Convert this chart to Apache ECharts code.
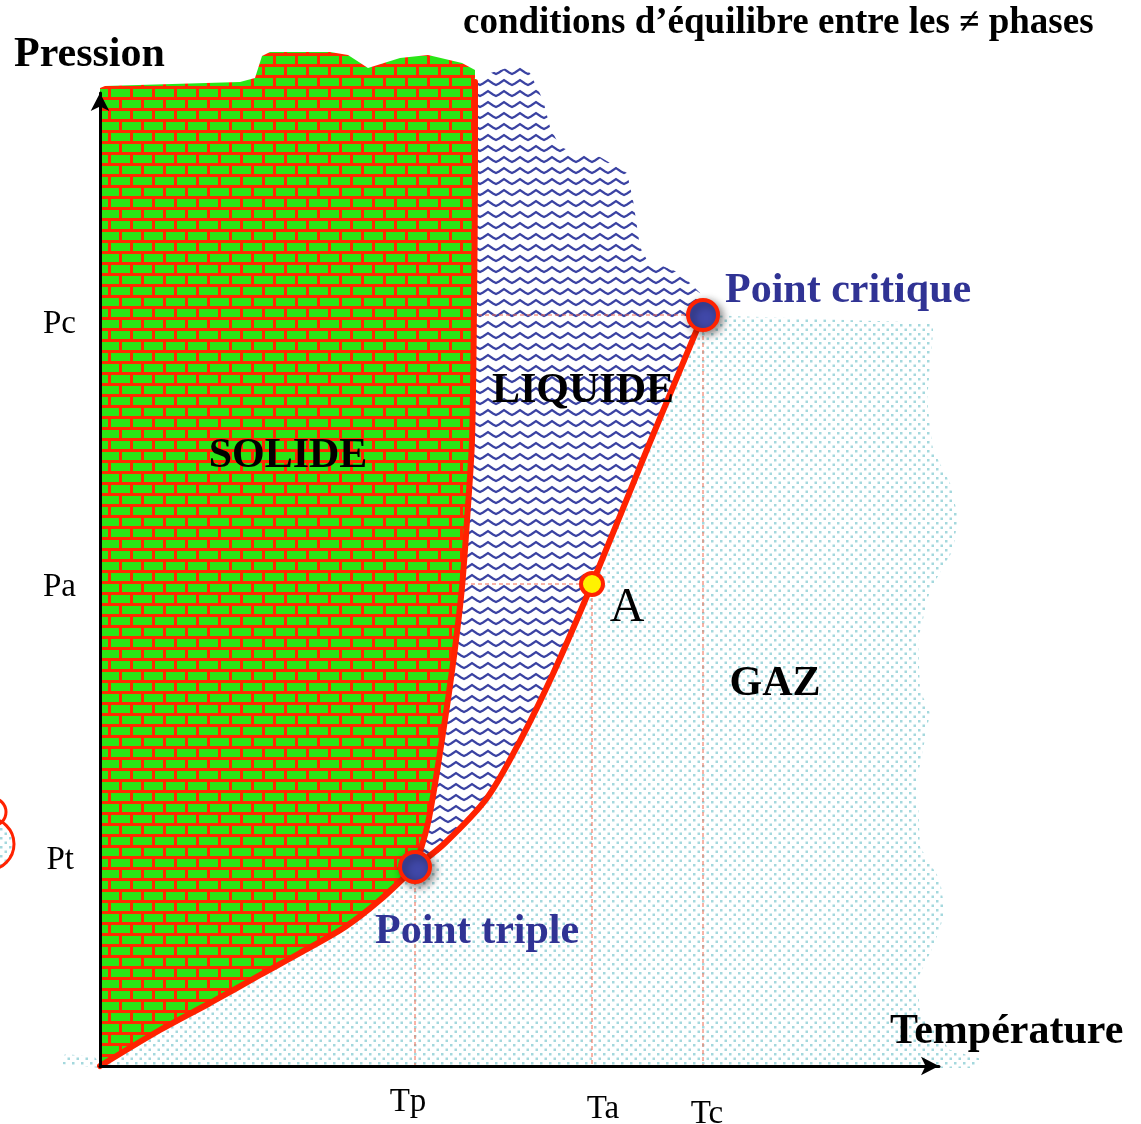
<!DOCTYPE html>
<html>
<head>
<meta charset="utf-8">
<script src="https://cdn.jsdelivr.net/npm/echarts@6/dist/echarts.min.js"></script>
<style>
  html, body { margin: 0; background: #fff; }
  #chart { width: 1141px; height: 1124px; }
</style>
</head>
<body>
<div id="chart"></div>
<script>
// ticks (température / pression, unités arbitraires)
const tempTicks = [315, 492, 603];
const tempNames = ['Tp', 'Ta', 'Tc'];
const presTicks = [199, 482, 751];
const presNames = ['Pt', 'Pa', 'Pc'];

// courbes d'équilibre
const sublimation = [[0, 0], [60, 36], [110, 63], [160, 91], [200, 113], [245, 139], [280, 166], [315, 199]];
const fusion = [[315, 199], [328, 243], [343, 333], [354, 410], [362, 479], [368, 560], [372, 626], [374, 760], [375, 900], [375, 984]];
const vaporisation = [[315, 199], [345, 223], [387, 268], [420, 325], [452, 390], [492, 482], [548, 619], [603, 751]];

// bords "libres" des zones
const solidTop = [[375, 996], [362, 1003], [328, 1011], [300, 1008], [268, 998], [248, 1011], [230, 1014], [170, 1014], [162, 1010], [155, 988], [140, 984], [5, 980], [0, 978]];
const liquidTop = [[377, 989], [417, 1001], [430, 993], [443, 966], [450, 939], [460, 919], [477, 913], [500, 909], [527, 893], [533, 866], [540, 819], [547, 806], [580, 793], [600, 773]];
const gasEdge = [[833, 743], [833, 733], [830, 699], [827, 666], [833, 616], [850, 583], [858, 549], [853, 516], [830, 476], [818, 426], [820, 376], [830, 353], [817, 286], [820, 219], [840, 186], [845, 153], [833, 119], [817, 86], [820, 53], [850, 16], [885, 6], [870, -2]];
const gasBottom = [[0, -2], [-40, 2], [-35, 12], [-5, 9]];

// points remarquables
const triple = [315, 199];
const pointA = [492, 482];
const critique = [603, 751];

// --- textures ---
function brickTile() {
  const c = document.createElement('canvas');
  c.width = 44; c.height = 22;
  const g = c.getContext('2d');
  g.fillStyle = '#ff2a00'; g.fillRect(0, 0, 44, 22);
  g.fillStyle = '#2ae516';
  g.fillRect(1, 1, 19, 8); g.fillRect(23, 1, 19, 8);
  g.fillRect(12, 12, 19, 8); g.fillRect(34, 12, 10, 8); g.fillRect(0, 12, 9, 8);
  return c;
}
function waveTile() {
  const c = document.createElement('canvas');
  c.width = 16; c.height = 11;
  const g = c.getContext('2d');
  g.strokeStyle = '#3a42a2'; g.lineWidth = 2.2;
  g.beginPath();
  g.moveTo(-1, 8.5); g.lineTo(3, 6.5); g.lineTo(8, 3); g.lineTo(13, 6.5); g.lineTo(17, 8.5);
  g.stroke();
  return c;
}
function dotTile() {
  const c = document.createElement('canvas');
  c.width = 9; c.height = 9;
  const g = c.getContext('2d');
  g.fillStyle = '#a4d8dd';
  g.fillRect(0, 0, 2.5, 2.5); g.fillRect(4.5, 4.5, 2.5, 2.5);
  return c;
}
const bricks = { image: brickTile(), repeat: 'repeat' };
const waves = { image: waveTile(), repeat: 'repeat' };
const dots = { image: dotTile(), repeat: 'repeat' };

function region(pts, fill, z) {
  return {
    type: 'custom', z: z, silent: true, clip: false,
    data: [[0, 0]], encode: { x: 0, y: 1 },
    renderItem: (params, api) => ({
      type: 'polygon',
      shape: { points: pts.map(p => api.coord(p)) },
      style: { fill: fill }
    })
  };
}

const solidPoly = [].concat(sublimation, fusion.slice(1), solidTop);
const liquidPoly = [].concat(fusion, liquidTop, vaporisation.slice().reverse().slice(0, -1));
const gasPoly = [].concat(sublimation, vaporisation.slice(1), gasEdge, gasBottom);

const red = '#ff2200';
const serif = '"Liberation Serif", "DejaVu Serif", serif';

function curve(data) {
  return {
    type: 'line', data: data, z: 5, clip: false, smooth: 0.3,
    symbol: 'none', silent: true,
    lineStyle: { color: red, width: 6, cap: 'round' }
  };
}
function guide(data) {
  return {
    type: 'line', data: data, z: 3, symbol: 'none', silent: true,
    lineStyle: { color: '#f2684f', width: 1, type: [4, 3] }
  };
}
const guides = [];
for (let i = 0; i < 3; i++) {
  guides.push(guide([[0, presTicks[i]], [tempTicks[i], presTicks[i]]]));
  guides.push(guide([[tempTicks[i], presTicks[i]], [tempTicks[i], 0]]));
}

function point(pos, size, color, border, shadow) {
  return {
    type: 'scatter', data: [pos], z: 6, silent: true, symbolSize: size,
    itemStyle: Object.assign({ color: color, borderColor: red, borderWidth: border, opacity: 1 },
      shadow ? { shadowBlur: 8, shadowColor: 'rgba(0,0,0,0.45)', shadowOffsetX: 3, shadowOffsetY: 3 } : {})
  };
}

const chart = echarts.init(document.getElementById('chart'));
chart.setOption({
  animation: false,
  backgroundColor: '#fff',
  grid: { left: 100, right: 202, top: 93, bottom: 58, outerBoundsMode: 'none', containLabel: false },
  xAxis: {
    type: 'value', min: 0, max: 839, z: 10,
    axisLine: { show: true, symbol: ['none', 'arrow'], symbolSize: [14, 18], lineStyle: { color: '#000', width: 3 } },
    axisTick: { show: false }, splitLine: { show: false },
    axisLabel: {
      customValues: tempTicks, margin: 20,
      formatter: v => '{' + tempNames[tempTicks.indexOf(v)] + '|' + tempNames[tempTicks.indexOf(v)] + '}',
      rich: {
        Tp: { fontFamily: serif, fontSize: 33, color: '#000', padding: [0, 14, 0, 0] },
        Ta: { fontFamily: serif, fontSize: 33, color: '#000', padding: [7, 0, 0, 22] },
        Tc: { fontFamily: serif, fontSize: 33, color: '#000', padding: [12, 0, 0, 8] }
      }
    }
  },
  yAxis: {
    type: 'value', min: 0, max: 973, z: 10,
    axisLine: { show: true, symbol: ['none', 'arrow'], symbolSize: [14, 18], lineStyle: { color: '#000', width: 3 } },
    axisTick: { show: false }, splitLine: { show: false },
    axisLabel: {
      customValues: presTicks, margin: 24,
      formatter: v => '{' + presNames[presTicks.indexOf(v)] + '|' + presNames[presTicks.indexOf(v)] + '}',
      rich: {
        Pt: { fontFamily: serif, fontSize: 33, color: '#000', padding: [0, 2, 14, 0] },
        Pa: { fontFamily: serif, fontSize: 33, color: '#000', padding: [6, 0, 0, 0] },
        Pc: { fontFamily: serif, fontSize: 33, color: '#000', padding: [18, 0, 0, 0] }
      }
    }
  },
  series: [
    region(gasPoly, dots, 1),
    region(liquidPoly, waves, 2),
    ...guides,
    region(solidPoly, bricks, 4),
    curve(sublimation),
    curve(fusion),
    curve(vaporisation),
    point(triple, 30, '#4048a8', 4, true),
    point(critique, 30, '#4048a8', 4, true),
    point(pointA, 22, '#fff200', 4, false)
  ],
  graphic: [
    { type: 'circle', shape: { cx: -8, cy: 812, r: 14 }, style: { fill: '#fff', stroke: red, lineWidth: 3 }, z: 50 },
    { type: 'circle', shape: { cx: -12, cy: 844, r: 26 }, style: { fill: dots, stroke: red, lineWidth: 3 }, z: 51 },
    { type: 'text', left: 14, top: 34, z: 100, style: { text: 'Pression', font: 'bold 42px ' + serif, fill: '#000' } },
    { type: 'text', left: 463, top: 5, z: 100, style: { text: 'conditions d’équilibre entre les ≠ phases', font: 'bold 37px ' + serif, fill: '#000' } },
    { type: 'text', left: 890, top: 1011, z: 100, style: { text: 'Température', font: 'bold 42px ' + serif, fill: '#000' } },
    { type: 'text', x: 288, y: 456, z: 100, style: { text: 'SOLIDE', font: 'bold 42px ' + serif, fill: '#000', align: 'center', verticalAlign: 'middle' } },
    { type: 'text', x: 583, y: 391, z: 100, style: { text: 'LIQUIDE', font: 'bold 42px ' + serif, fill: '#000', align: 'center', verticalAlign: 'middle' } },
    { type: 'text', x: 775, y: 684, z: 100, style: { text: 'GAZ', font: 'bold 42px ' + serif, fill: '#000', align: 'center', verticalAlign: 'middle' } },
    { type: 'text', left: 725, top: 270, z: 100, style: { text: 'Point critique', font: 'bold 42px ' + serif, fill: '#303394' } },
    { type: 'text', left: 375, top: 911, z: 100, style: { text: 'Point triple', font: 'bold 42px ' + serif, fill: '#303394' } },
    { type: 'text', x: 627, y: 608, z: 100, style: { text: 'A', font: '48px ' + serif, fill: '#000', align: 'center', verticalAlign: 'middle' } }
  ]
});
</script>
</body>
</html>
